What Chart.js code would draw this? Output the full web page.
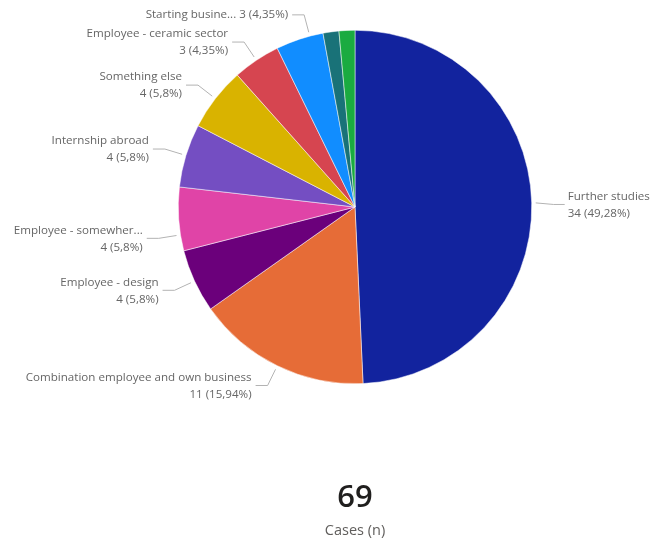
<!DOCTYPE html>
<html>
<head>
<meta charset="utf-8">
<script src="https://cdn.jsdelivr.net/npm/chart.js@4.4.0/dist/chart.umd.min.js"></script>
<style>
  html, body { margin: 0; padding: 0; background: #fff; }
  #wrap { position: relative; width: 651px; height: 543px; overflow: hidden; }
  #pieChart { position: absolute; left: 0; top: 0; }
  .card { position: absolute; left: 255px; width: 200px; text-align: center; font-family: "Open Sans", sans-serif; }
  #total { top: 475px; font-size: 31px; font-weight: 600; color: #201f1e; line-height: 40px; }
  #totalLabel { top: 519px; font-size: 14.5px; color: #605E5C; line-height: 22px; }
</style>
</head>
<body>
<div id="wrap">
  <canvas id="pieChart" width="651" height="543"></canvas>
  <div id="total" class="card"></div>
  <div id="totalLabel" class="card">Cases (n)</div>
</div>
<script>
// Categories and counts (clockwise from 12 o'clock)
const categories = [
    'Further studies',
    'Combination employee and own business',
    'Employee - design',
    'Employee - somewher...',
    'Internship abroad',
    'Something else',
    'Employee - ceramic sector',
    'Starting busine...',
    '',
    ''
];
const counts = [34, 11, 4, 4, 4, 4, 3, 3, 1, 1];
const sliceColors = ['#12239E', '#E66C37', '#6B007B', '#E044A7', '#744EC2', '#D9B300', '#D64550', '#118DFF', '#197278', '#1AAB40'];

const total = counts.reduce((a, b) => a + b, 0);
document.getElementById('total').textContent = total;

// 49.28 -> "49,28", 5.80 -> "5,8"
function fmtPct(v) {
    let s = (v / total * 100).toFixed(2);
    s = s.replace(/0+$/, '').replace(/\.$/, '');
    return s.replace('.', ',');
}

// Labels with leader lines outside the pie
const leaderLabels = {
    id: 'leaderLabels',
    afterDatasetsDraw(chart, args, opts) {
        const ctx = chart.ctx;
        const meta = chart.getDatasetMeta(0);
        ctx.save();
        ctx.font = opts.font;
        ctx.textBaseline = 'middle';
        meta.data.forEach((arc, i) => {
            const name = categories[i];
            if (!name) return;
            const tw = opts.tweaks[i] || {};
            const ang = (arc.startAngle + arc.endAngle) / 2 + (tw.da || 0);
            const cos = Math.cos(ang), sin = Math.sin(ang);
            const r = arc.outerRadius;
            const sx = arc.x + cos * (r + 4), sy = arc.y + sin * (r + 4);
            const ex = arc.x + cos * (r + 22), ey = arc.y + sin * (r + 22) + (tw.dy || 0);
            const right = cos > 0;
            const hx = ex + (right ? 11 : -12);

            ctx.strokeStyle = opts.lineColor;
            ctx.lineWidth = 1;
            ctx.beginPath();
            ctx.moveTo(sx, sy);
            ctx.lineTo(ex, ey);
            ctx.lineTo(hx, ey);
            ctx.stroke();

            const tx = hx + (right ? 3 : -4);
            ctx.textAlign = right ? 'left' : 'right';
            ctx.fillStyle = opts.color;
            const valueText = counts[i] + ' (' + fmtPct(counts[i]) + '%)';
            if (tw.inline) {
                ctx.fillText(name + ' ' + valueText, tx, ey);
            } else {
                ctx.fillText(name, tx, ey - 8);
                ctx.fillText(valueText, tx, ey + 9);
            }
        });
        ctx.restore();
    }
};

new Chart(document.getElementById('pieChart'), {
    type: 'pie',
    data: {
        labels: categories,
        datasets: [{
            data: counts,
            backgroundColor: sliceColors,
            borderColor: '#ffffff',
            borderWidth: 0.5
        }]
    },
    options: {
        responsive: false,
        animation: false,
        layout: { padding: { top: 30, bottom: 159, left: 178, right: 119 } },
        plugins: {
            legend: { display: false },
            tooltip: { enabled: false },
            leaderLabels: {
                font: '11.6px "Open Sans", sans-serif',
                color: '#666666',
                lineColor: '#b3b3b3',
                tweaks: {
                    0: { dy: 2 },
                    3: { da: -0.09 },
                    7: { da: 0.06, inline: true }
                }
            }
        }
    },
    plugins: [leaderLabels]
});
</script>
</body>
</html>
